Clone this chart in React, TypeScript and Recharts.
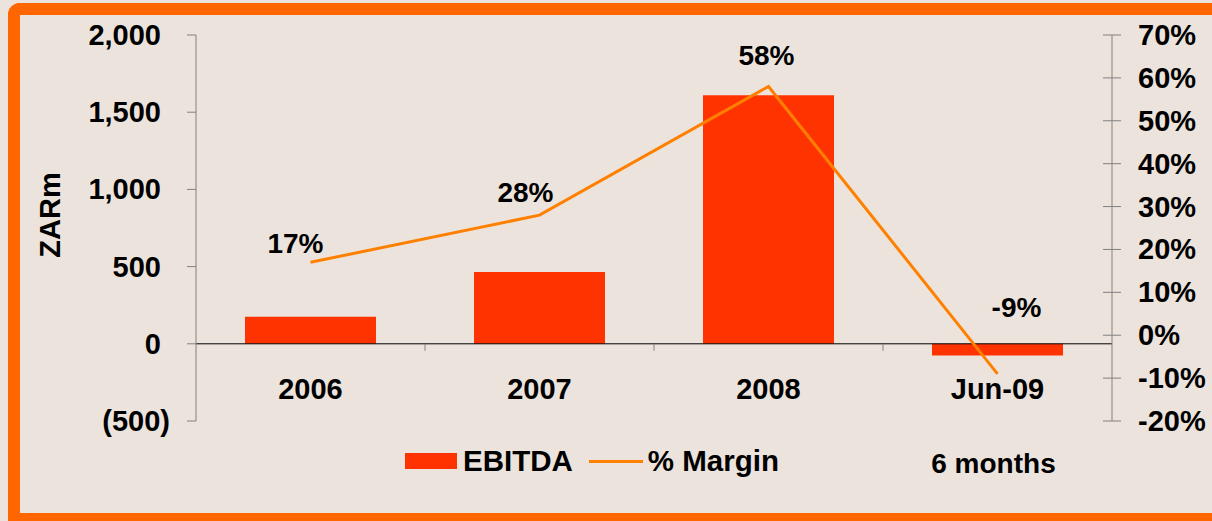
import React from 'react';
import { ComposedChart, Bar, Line, XAxis, YAxis, ReferenceLine, Legend, LabelList } from 'recharts';

const categories = ['2006', '2007', '2008', 'Jun-09'];
const subLabels = ['', '', '', '6 months'];
const ebitda = [175, 465, 1610, -75];
const marginPct = [17, 28, 58, -9];
const leftTicks = [-500, 0, 500, 1000, 1500, 2000];
const rightTicks = [-20, -10, 0, 10, 20, 30, 40, 50, 60, 70];
const boundaryCats = ['2007', '2008', 'Jun-09'];
const legendOrder = ['EBITDA', '% Margin'];

const data = categories.map((c, i) => ({ category: c, sub: subLabels[i], ebitda: ebitda[i], margin: marginPct[i] }));

const FONT = '"Liberation Sans", Arial, Helvetica, sans-serif';
const FS = 29;
const BG = '#ece4dc';
const BORDER = '#ff6600';
const BAR = '#ff3300';
const LINE = '#ff8000';
const AXIS = '#808080';

// label nudges relative to each line point (styling)
const labelNudges: [number, number][] = [[-15, -19], [-14, -23], [-2, -31], [19, -66]];

const textStyle = { fontFamily: FONT, fontSize: FS, fontWeight: 700, fill: '#000' } as const;

const LeftTick = (props: any) => {
  const { x, y, payload } = props;
  const v = payload.value as number;
  const label = v < 0 ? `(${Math.abs(v).toLocaleString('en-US')})` : v.toLocaleString('en-US');
  return (
    <text x={v < 0 ? x : x - 9} y={y} textAnchor="end" dominantBaseline="central" style={textStyle}>
      {label}
    </text>
  );
};

const RightTick = (props: any) => {
  const { x, y, payload } = props;
  return (
    <g>
      <line x1={x - 35} x2={x - 26} y1={y} y2={y} stroke={AXIS} strokeWidth={1} />
      <text x={x} y={y} textAnchor="start" dominantBaseline="central" style={textStyle}>
        {`${payload.value}%`}
      </text>
    </g>
  );
};

const BottomTick = (props: any) => {
  const { x, y, payload, index } = props;
  const sub = subLabels[index] || '';
  return (
    <g>
      <text x={x} y={y - 32} textAnchor="middle" dominantBaseline="central" style={textStyle}>
        {payload.value}
      </text>
      {sub ? (
        <text x={x - 4} y={y + 42} textAnchor="middle" dominantBaseline="central" style={{ ...textStyle, fontSize: 28 }}>
          {sub}
        </text>
      ) : null}
    </g>
  );
};

const MarginLabel = (props: any) => {
  const { x, y, value, index } = props;
  const [dx, dy] = labelNudges[index] || [0, -20];
  return (
    <text x={x + dx} y={y + dy} textAnchor="middle" dominantBaseline="central" style={{ ...textStyle, fontSize: 28 }}>
      {`${value}%`}
    </text>
  );
};

const LegendContent = (props: any) => {
  const payload = [...(props.payload || [])].sort(
    (a: any, b: any) => legendOrder.indexOf(a.value) - legendOrder.indexOf(b.value)
  );
  return (
    <div style={{ display: 'flex', alignItems: 'center', fontFamily: FONT, fontSize: 29.5, fontWeight: 700, color: '#000', whiteSpace: 'nowrap' }}>
      {payload.map((p: any, i: number) => (
        <div key={i} style={{ display: 'flex', alignItems: 'center', marginRight: 16 }}>
          {p.type === 'line' ? (
            <div style={{ width: 54, height: 3, background: p.color, marginRight: 5 }} />
          ) : (
            <div style={{ width: 52, height: 16, background: p.color, marginRight: 6 }} />
          )}
          <span>{p.value}</span>
        </div>
      ))}
    </div>
  );
};

export default function App() {
  return (
    <div style={{ position: 'absolute', left: 0, top: 0, width: 1212, height: 521, background: BG, overflow: 'hidden' }}>
      <div
        style={{
          position: 'absolute',
          left: 8,
          top: 3,
          width: 1204,
          height: 518,
          boxSizing: 'border-box',
          borderTop: `12px solid ${BORDER}`,
          borderLeft: `12px solid ${BORDER}`,
          borderBottom: `8px solid ${BORDER}`,
          borderTopLeftRadius: 12,
          background: BG,
        }}
      />
      <div style={{ position: 'absolute', left: 0, top: 0 }}>
        <ComposedChart
          width={1212}
          height={521}
          data={data}
          margin={{ top: 35, right: 0, bottom: 0, left: 30 }}
          barCategoryGap="21.4%"
        >
          <XAxis
            dataKey="category"
            xAxisId="x"
            height={100}
            axisLine={false}
            tickLine={false}
            tickSize={0}
            tickMargin={0}
            tick={<BottomTick />}
            interval={0}
          />
          <YAxis
            yAxisId="left"
            orientation="left"
            width={166}
            domain={[-500, 2000]}
            ticks={leftTicks}
            interval={0}
            axisLine={{ stroke: AXIS, strokeWidth: 1 }}
            tickLine={{ stroke: AXIS, strokeWidth: 1 }}
            tickSize={9}
            tickMargin={17}
            tick={<LeftTick />}
            label={{
              content: (p: any) => {
                const vb = p.viewBox || { x: 30, y: 35, width: 166, height: 386 };
                const cx = vb.x + 20;
                const cy = vb.y + vb.height / 2 - 13;
                return (
                  <text x={cx} y={cy} transform={`rotate(-90, ${cx}, ${cy})`} textAnchor="middle" dominantBaseline="central" style={{ ...textStyle, fontSize: 29 }}>
                    ZARm
                  </text>
                );
              },
            }}
          />
          <YAxis
            yAxisId="right"
            orientation="right"
            width={100}
            domain={[-20, 70]}
            ticks={rightTicks}
            interval={0}
            axisLine={{ stroke: AXIS, strokeWidth: 1 }}
            tickLine={{ stroke: AXIS, strokeWidth: 1 }}
            tickSize={9}
            tickMargin={17}
            tick={<RightTick />}
          />
          <Legend
            layout="horizontal"
            verticalAlign="middle"
            align="center"
            content={<LegendContent />}
            wrapperStyle={{ left: 405, top: 444, width: 'auto', height: 'auto' }}
          />
          <Bar xAxisId="x" yAxisId="left" dataKey="ebitda" name="EBITDA" fill={BAR} isAnimationActive={false} legendType="rect" />
          <ReferenceLine xAxisId="x" yAxisId="left" y={0} stroke="#000" strokeWidth={1} />
          {boundaryCats.map((c) => (
            <ReferenceLine
              key={c}
              xAxisId="x"
              yAxisId="left"
              position="start"
              segment={[{ x: c, y: 0 }, { x: c, y: -45 }]}
              stroke={AXIS}
              strokeWidth={1}
            />
          ))}
          <Line
            xAxisId="x"
            yAxisId="right"
            type="linear"
            dataKey="margin"
            name="% Margin"
            stroke={LINE}
            strokeWidth={3}
            dot={false}
            activeDot={false}
            isAnimationActive={false}
            legendType="line"
          >
            <LabelList dataKey="margin" content={<MarginLabel />} />
          </Line>
        </ComposedChart>
      </div>
    </div>
  );
}
